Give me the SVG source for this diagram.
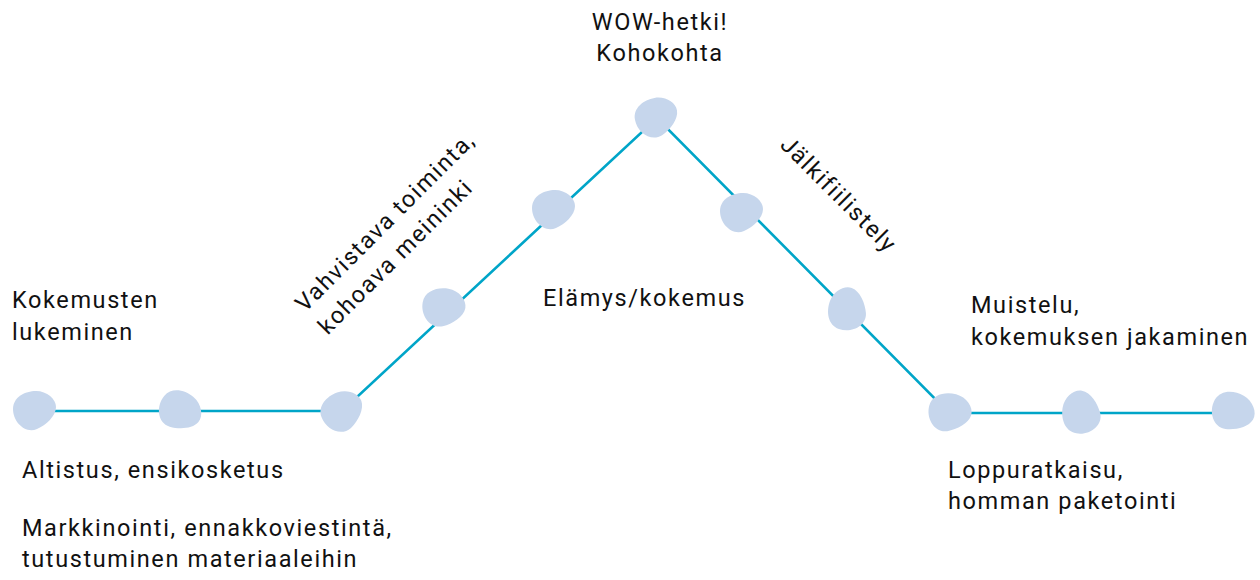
<svg xmlns="http://www.w3.org/2000/svg" width="1260" height="580" viewBox="0 0 1260 580">
<style>
.t{font-family:Roboto,"Liberation Sans",sans-serif;font-size:23.5px;letter-spacing:1.6px;fill:#111}
.blob{fill:#c6d6ec}
.c{stroke:#00a5c8;stroke-width:2.6;fill:none}
</style>
<defs>
<path id="b" d="M -21,-2 C -21,-14 -9,-20 2,-20 C 13,-20 22,-12 22,-4 C 22,5 12,14 3,18 C -9,23 -21,11 -21,-2 Z"/>
</defs>
<rect width="1260" height="580" fill="#fff"/>
<g id="connectors">
<path class="c" d="M 33,411 H 342 L 657,118 L 949,413 H 1232"/>
</g>
<g id="n1"><use href="#b" class="blob" transform="translate(34,411)"/></g>
<g id="n2"><use href="#b" class="blob" transform="translate(179,411) rotate(40)"/></g>
<g id="n3"><use href="#b" class="blob" transform="translate(342,412) rotate(-20)"/></g>
<g id="n4"><use href="#b" class="blob" transform="translate(443,308) rotate(10)"/></g>
<g id="n5"><use href="#b" class="blob" transform="translate(553,210)"/></g>
<g id="n6"><use href="#b" class="blob" transform="translate(656,118) rotate(-10)"/></g>
<g id="n7"><use href="#b" class="blob" transform="translate(741,213)"/></g>
<g id="n8"><use href="#b" class="blob" transform="translate(848,310) rotate(-70)"/></g>
<g id="n9"><use href="#b" class="blob" transform="translate(949,413) rotate(15)"/></g>
<g id="n10"><use href="#b" class="blob" transform="translate(1082,413) rotate(-80)"/></g>
<g id="n11"><use href="#b" class="blob" transform="translate(1232,412) rotate(30)"/></g>
<g id="labels">
<text class="t" x="12" y="308">Kokemusten<tspan x="12" dy="32">lukeminen</tspan></text>
<text class="t" x="22" y="478">Altistus, ensikosketus</text>
<text class="t" x="22" y="536">Markkinointi, ennakkoviestintä,<tspan x="22" dy="31">tutustuminen materiaaleihin</tspan></text>
<text class="t" x="660" y="30" text-anchor="middle">WOW-hetki!<tspan x="660" dy="31">Kohokohta</tspan></text>
<text class="t" x="543" y="306">Elämys/kokemus</text>
<text class="t" x="971" y="313">Muistelu,<tspan x="971" dy="32">kokemuksen jakaminen</tspan></text>
<text class="t" x="948" y="478">Loppuratkaisu,<tspan x="948" dy="31">homman paketointi</tspan></text>
<text class="t" transform="translate(305,313) rotate(-45)">Vahvistava toiminta,<tspan x="0" dy="32">kohoava meininki</tspan></text>
<text class="t" transform="translate(779,146) rotate(45)">Jälkifiilistely</text>
</g>
</svg>
